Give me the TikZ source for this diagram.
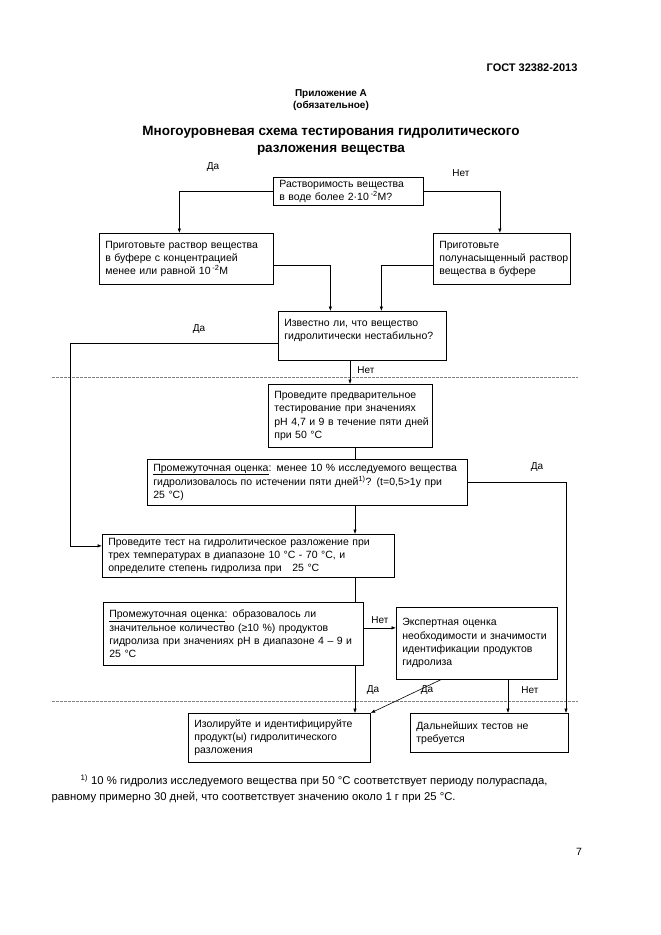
\documentclass[tikz,border=0pt]{standalone}
\usepackage{fontspec}
\setmainfont{Liberation Sans}
\usepackage{tikz}
\usetikzlibrary{arrows.meta,positioning,calc}
\tikzset{
  block/.style={rectangle,draw,anchor=north west,align=left,inner xsep=6pt,
    inner ysep=2pt,font=\fontsize{10.5}{13.3}\selectfont,line width=0.7pt},
  arrow/.style={-{Latex[length=4.5pt,width=3.5pt]},line width=0.6pt},
  link/.style={line width=0.6pt},
  lbl/.style={font=\fontsize{10}{12}\selectfont},
  sep/.style={dashed,dash pattern=on 2.5pt off 1.5pt,gray,line width=0.6pt},
}
\newcommand{\ul}[1]{\underline{#1}}
\begin{document}
\begin{tikzpicture}[x=1pt,y=-1pt]
\useasboundingbox (0,0) rectangle (661,935);
% page head
\node[font=\bfseries\fontsize{11}{13}\selectfont,anchor=east] (gost) at (581,68) {ГОСТ 32382-2013};
\node[font=\bfseries\fontsize{10}{12}\selectfont,align=center] (app) at (331,100) {Приложение А\\(обязательное)};
\node[font=\bfseries\fontsize{13.5}{17}\selectfont,align=center] (title) at (331,141)
  {Многоуровневая схема тестирования гидролитического\\разложения вещества};

% boxes
\node[block,text width=138pt,minimum height=28pt] (solub) at (273,177)
  {Растворимость вещества\\в воде более 2·10\,\textsuperscript{-2}М?};
\node[block,text width=162pt,minimum height=51pt] (prep) at (99,233)
  {Приготовьте раствор вещества\\в буфере с концентрацией\\менее или равной 10\,\textsuperscript{-2}М};
\node[block,text width=125pt,minimum height=51pt] (semi) at (433,233)
  {Приготовьте\\\mbox{полунасыщенный раствор}\\вещества в буфере};
\node[block,text width=156pt,minimum height=49pt] (known) at (278,311)
  {Известно ли, что вещество\\гидролитически нестабильно?\\\mbox{}};
\node[block,text width=152pt,minimum height=63pt] (prelim) at (268,384)
  {Проведите предварительное\\тестирование при значениях\\\mbox{pH 4,7 и 9 в течение пяти дней}\\при 50 °C};
\node[block,text width=308pt,minimum height=46pt] (inter1) at (147,459)
  {\mbox{\ul{Промежуточная оценка}: менее 10 \% исследуемого вещества}\\гидролизовалось по истечении пяти дней\textsuperscript{1)}? (t=0,5>1y при\\25 °C)};
\node[block,text width=280pt,minimum height=43pt] (full) at (102,534)
  {Проведите тест на гидролитическое разложение при\\трех температурах в диапазоне 10 °C - 70 °C, и\\определите степень гидролиза при \ \ 25 °C};
\node[block,text width=248pt,minimum height=63pt] (inter2) at (103,602)
  {\ul{Промежуточная оценка}: образовалось ли\\значительное количество (≥10 \%) продуктов\\\mbox{гидролиза при значениях pH в диапазоне 4 – 9 и}\\25 °C};
\node[block,text width=149pt,minimum height=72pt] (expert) at (396,607)
  {Экспертная оценка\\необходимости и значимости\\идентификации продуктов\\гидролиза};
\node[block,text width=170pt,minimum height=49pt] (isol) at (188,713)
  {Изолируйте и идентифицируйте\\продукт(ы) гидролитического\\разложения};
\node[block,text width=146pt,minimum height=39pt] (none) at (410,713)
  {Дальнейших тестов не\\требуется};

% helper columns
\coordinate (lft) at (70,0);
\coordinate (top) at (350,0);
\coordinate (mid) at (355,0);
\coordinate (rgt) at (566,0);
\coordinate (nx) at (508,0);

% level separators
\draw[sep] (52,377) -- (578,377);
\draw[sep] (52,701) -- (578,701);

% connectors
\draw[arrow] (solub.west) -| ([xshift=-7pt]prep.north);
\draw[arrow] (solub.east) -| ([xshift=-2pt]semi.north);
\draw[arrow] ([yshift=-6pt]prep.east) -| ([xshift=-32pt]known.north);
\draw[arrow] ([yshift=-6pt]semi.west) -| ([xshift=19pt]known.north);
\draw[arrow] ([yshift=-7pt]known.west) -| ([yshift=10pt]full.west -| lft) -- ([yshift=10pt]full.west);
\draw[arrow] (known.south -| top) -- (prelim.north -| top);
\draw[link] (prelim.south -| mid) -- (inter1.north -| mid);
\draw[arrow] (inter1.south -| mid) -- (full.north -| mid);
\draw[arrow] (inter1.east) -| (none.north -| rgt);
\draw[link] (full.south -| mid) -- (inter2.north -| mid);
\draw[arrow] (inter2.south -| mid) -- (isol.north -| mid);
\draw[arrow] ([yshift=6pt]inter2.east) -- ([yshift=6pt]inter2.east -| expert.west);
\draw[arrow] ([xshift=-36pt]expert.south) -- (isol.north east);
\draw[arrow] (expert.south -| nx) -- (none.north -| nx);

% branch labels
\node[lbl] (y1) at (213,167) {Да};
\node[lbl] (n1) at (461,173) {Нет};
\node[lbl] (y2) at (199,329) {Да};
\node[lbl] (n2) at (366,370) {Нет};
\node[lbl] (y3) at (537,467) {Да};
\node[lbl] (n3) at (380,620) {Нет};
\node[lbl] (y4) at (373,690) {Да};
\node[lbl] (y5) at (427,690) {Да};
\node[lbl] (n4) at (530,690) {Нет};

% footnote
\node[font=\fontsize{11.3}{16}\selectfont,align=left,anchor=north west] (fn) at (48,771)
  {\hspace*{29pt}\textsuperscript{1)} 10 \% гидролиз исследуемого вещества при 50 °C соответствует периоду полураспада,\\
   равному примерно 30 дней, что соответствует значению около 1 г при 25 °C.};
\node[font=\fontsize{10.5}{12}\selectfont] (pg) at (579,852) {7};
\end{tikzpicture}
\end{document}
